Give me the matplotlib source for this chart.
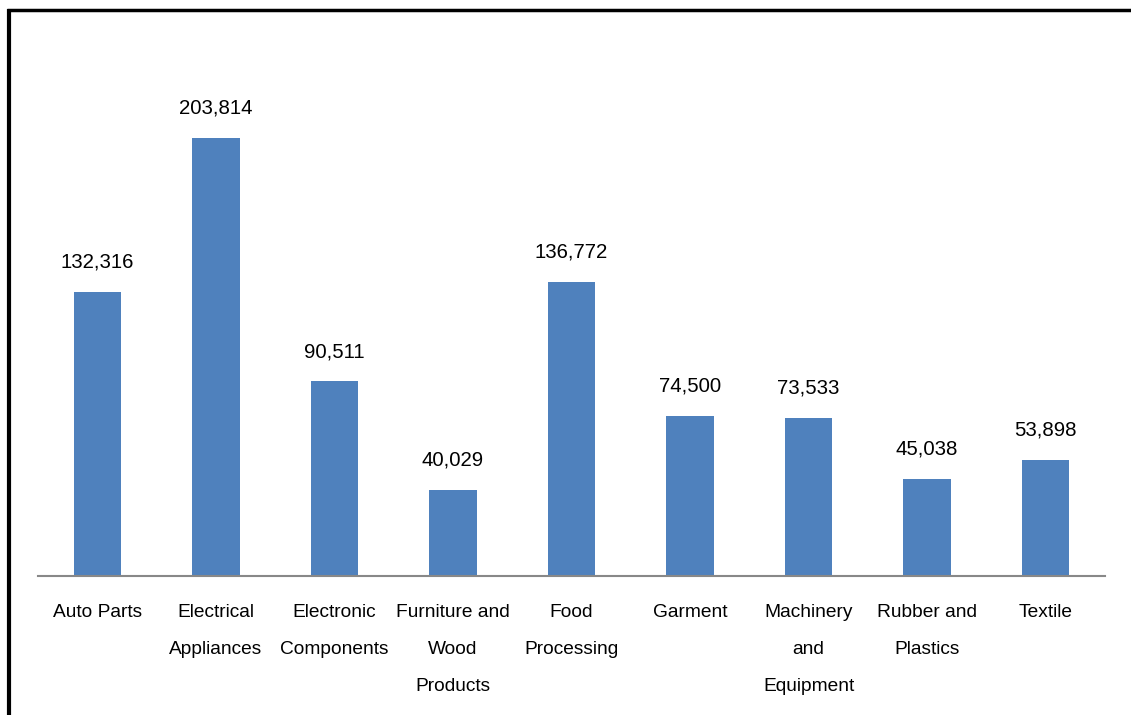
import matplotlib.pyplot as plt
from matplotlib.lines import Line2D
from matplotlib import transforms

plt.rcParams['font.family'] = ['Liberation Sans', 'DejaVu Sans']

categories = ["Auto Parts", "Electrical\nAppliances", "Electronic\nComponents",
              "Furniture and\nWood\nProducts", "Food\nProcessing", "Garment",
              "Machinery\nand\nEquipment", "Rubber and\nPlastics", "Textile"]
values = [132316, 203814, 90511, 40029, 136772, 74500, 73533, 45038, 53898]

fig = plt.figure(figsize=(11.31, 7.15), dpi=100, facecolor='white')
ax = fig.add_axes([0.0336, 0.1944, 0.9434, 0.7515])

x = list(range(len(values)))
ax.bar(x, values, width=0.4, color='#4F81BD')
ax.set_xlim(-0.5, len(values) - 0.5)
ax.set_ylim(0, 250000)

for xi, v in zip(x, values):
    ax.annotate(f"{v:,}", (xi, v), xytext=(0, 21.5), textcoords='offset points',
                ha='center', va='center', fontsize=14.7)

# category labels, one text per line for the wide line gap
trans = transforms.blended_transform_factory(ax.transData, ax.transAxes)
for xi, lab in zip(x, categories):
    for j, line in enumerate(lab.split("\n")):
        ax.annotate(line, (xi, 0), xycoords=trans,
                    xytext=(0, -26 - j * 26.6), textcoords='offset points',
                    ha='center', va='center', fontsize=13.8)

for s in ['top', 'right', 'left']:
    ax.spines[s].set_visible(False)
ax.spines['bottom'].set_color('#888888')
ax.spines['bottom'].set_linewidth(1.5)
ax.set_xticks([])
ax.set_yticks([])

# frame lines at top and left of the figure
W, H = 1131, 715
fig.add_artist(Line2D([7 / W, 1], [1 - 10 / H, 1 - 10 / H], color='black', lw=2.5,
                      solid_capstyle='butt', transform=fig.transFigure))
fig.add_artist(Line2D([8.5 / W, 8.5 / W], [0, 1 - 9 / H], color='black', lw=3,
                      solid_capstyle='butt', transform=fig.transFigure))

fig.savefig("out.png", dpi=100)
